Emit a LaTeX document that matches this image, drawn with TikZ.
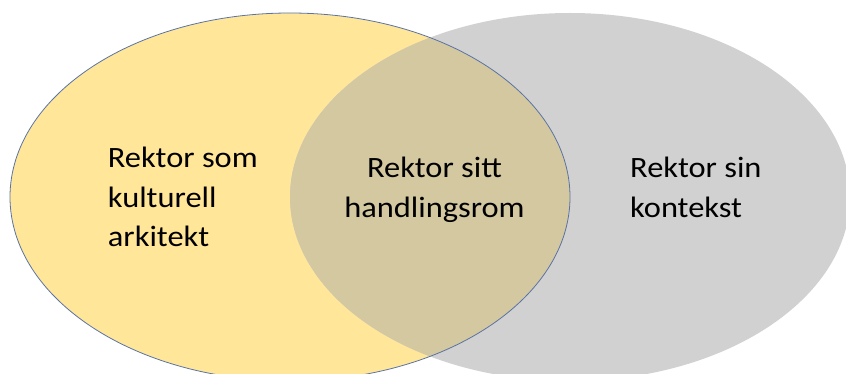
\documentclass[tikz,border=0pt]{standalone}
\usepackage{fontspec}
\newfontfamily\vennfont[FakeStretch=1.1]{Carlito}
\definecolor{vyellow}{RGB}{255,230,153}
\definecolor{vgray}{RGB}{209,209,209}
\definecolor{voverlap}{RGB}{211,200,160}
\definecolor{vline}{RGB}{90,115,165}
\tikzset{
  vlabel/.style={inner sep=0pt, font=\vennfont\fontsize{29.5}{39.7}\selectfont, text=black},
}
\begin{document}
\begin{tikzpicture}[x=1pt,y=-1pt]
\useasboundingbox (0,0) rectangle (846,374);
\begin{scope}
\clip (0,0) rectangle (846,374);
\fill[vyellow] (290,197) ellipse [x radius=280, y radius=184];
\fill[vgray] (570,197) ellipse [x radius=280, y radius=184];
\begin{scope}
\clip (290,197) ellipse [x radius=280, y radius=184];
\fill[voverlap] (570,197) ellipse [x radius=280, y radius=184];
\end{scope}
\draw[vline, line width=0.8pt] (290,197) ellipse [x radius=280, y radius=184];
\end{scope}
\node[vlabel, anchor=base west, align=left] (left) at (107.7,246.7) {Rektor som\\kulturell\\arkitekt};
\node[vlabel, anchor=base, align=center] (mid) at (434.5,217.3) {Rektor sitt\\handlingsrom};
\node[vlabel, anchor=base west, align=left] (right) at (630,217.3) {Rektor sin\\kontekst};
\end{tikzpicture}
\end{document}
